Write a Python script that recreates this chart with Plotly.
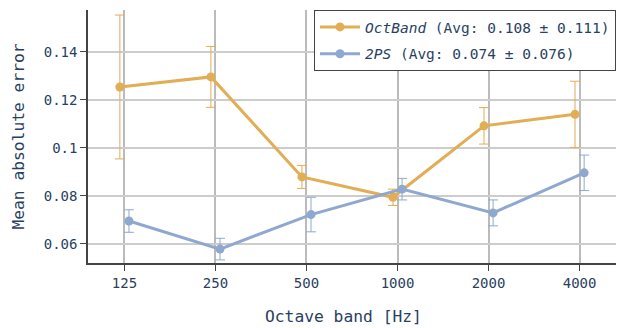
import plotly.graph_objects as go

bands = ["125", "250", "500", "1000", "2000", "4000"]
octband_mean = [0.1254, 0.1296, 0.0879, 0.0794, 0.1092, 0.1140]
octband_err = [0.0300, 0.0127, 0.0048, 0.0034, 0.0076, 0.0138]
tps_mean = [0.0695, 0.0578, 0.0722, 0.0828, 0.0729, 0.0896]
tps_err = [0.0047, 0.0045, 0.0072, 0.0045, 0.0054, 0.0074]

names = ["<i>OctBand</i> (Avg: 0.108 ± 0.111)", "<i>2PS</i> (Avg: 0.074 ± 0.076)"]
colors = ["#E1AD55", "#8FA8D0"]
offsets = [-0.05, 0.05]

pos = list(range(len(bands)))
fig = go.Figure()
for i, (mean, err, name, col, off) in enumerate(zip([octband_mean, tps_mean], [octband_err, tps_err], names, colors, offsets)):
    fig.add_trace(go.Scatter(
        x=[p + off for p in pos], y=mean, name=name, legendgroup=f"g{i}",
        mode="lines+markers",
        line=dict(color=col, width=3),
        marker=dict(color=col, size=9),
        error_y=dict(type="data", array=err, visible=True, color=col, thickness=1, width=5),
    ))

font = "DejaVu Sans Mono"
fig.update_layout(
    template="plotly_white",
    width=620, height=328,
    margin=dict(l=88, r=4, t=10, b=65),
    font=dict(family=font, size=14, color="#2a3f5f"),
    showlegend=True,
    legend=dict(x=1, y=1, xanchor="right", yanchor="top", bgcolor="white",
                bordercolor="#444", borderwidth=1, font=dict(size=14.5),
                tracegroupgap=5, itemwidth=40),
    xaxis=dict(
        tickmode="array", tickvals=pos, ticktext=bands, range=[-0.4, 5.4],
        showline=True, linecolor="#444", linewidth=1.5, ticks="outside", ticklen=6,
        tickcolor="#444", showgrid=True, gridcolor="#bbbbbb", gridwidth=2,
        zeroline=False,
    ),
    yaxis=dict(
        range=[0.052, 0.1575], tickvals=[0.06, 0.08, 0.1, 0.12, 0.14],
        showline=True, linecolor="#444", linewidth=1.5, ticks="outside", ticklen=6,
        tickcolor="#444", showgrid=True, gridcolor="#cccccc", gridwidth=2,
        zeroline=False, title=dict(text="Mean absolute error", font=dict(size=16.3)),
    ),
    annotations=[dict(text="Octave band [Hz]", xref="paper", yref="paper",
                      x=0.484, y=0, yshift=-53, xanchor="center", yanchor="middle",
                      showarrow=False, font=dict(size=16.3))],
)
fig.write_html("out.html")
